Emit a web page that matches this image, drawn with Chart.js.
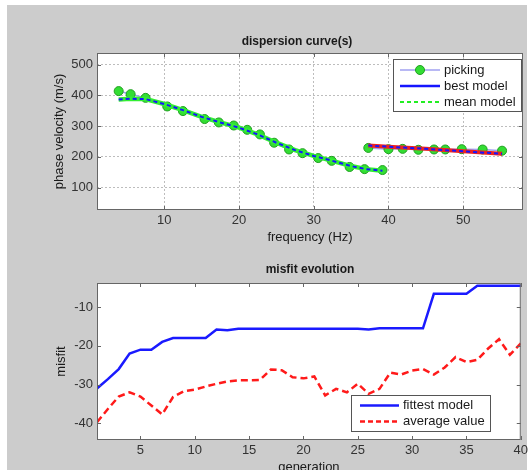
<!DOCTYPE html>
<html>
<head>
<meta charset="utf-8">
<script src="https://cdn.jsdelivr.net/npm/chart.js@4.4.0/dist/chart.umd.min.js"></script>
<style>
  html, body { margin: 0; padding: 0; background: #fff; overflow: hidden; }
  #fig { position: absolute; left: 7px; top: 5px; width: 520px; height: 465px; background: #cccccc; }
  .holder { position: absolute; left: 0; width: 531px; }
  #h1 { top: 0; height: 245px; }
  #h2 { top: 245px; height: 240px; }
</style>
</head>
<body>
<div id="fig"></div>
<div class="holder" id="h1"><canvas id="chart-dispersion" width="531" height="245"></canvas></div>
<div class="holder" id="h2"><canvas id="chart-misfit" width="531" height="240"></canvas></div>
<script>
// dispersion curve: picked points (two modes)
const pickFreqLow = [3.9, 5.5, 7.5, 10.4, 12.5, 15.4, 17.3, 19.3, 21.1, 22.8, 24.7, 26.7, 28.5, 30.6, 32.4, 34.8, 36.8, 39.2];
const pickVelLow = [414, 404, 392, 364, 349, 323, 312, 302, 288, 273, 246, 224, 212, 196, 187, 167, 160, 157];
const pickFreqHigh = [37.3, 40.0, 41.9, 44.0, 46.1, 47.6, 49.8, 52.6, 55.2];
const pickVelHigh = [229, 225, 226, 223, 224, 224, 225, 224, 220];

// model curves
const modelFreqLow = [3.9, 5.5, 7.5, 10, 12.5, 15, 17.5, 20, 22.5, 25, 27.5, 30, 32.5, 35, 37, 39.2];
const modelVelLow = [387, 389, 388, 372, 352, 330, 312, 295, 273, 246, 222, 203, 187, 170, 160, 155];
const modelFreqHigh = [37.3, 40, 45, 50, 55.2];
const modelVelHigh = [237, 233, 226, 218, 210];

const freqTicks = [10, 20, 30, 40, 50];
const velTicks = [100, 200, 300, 400, 500];

// misfit evolution
const generations = [1, 2, 3, 4, 5, 6, 7, 8, 9, 10, 11, 12, 13, 14, 15, 16, 17, 18, 19, 20,
  21, 22, 23, 24, 25, 26, 27, 28, 29, 30, 31, 32, 33, 34, 35, 36, 37, 38, 39, 40];
const fittestMisfit = [-31, -28.6, -26, -22, -21, -21, -19, -18, -18, -18, -18, -15.8, -16, -15.6, -15.6, -15.6, -15.6, -15.6, -15.6, -15.6,
  -15.6, -15.6, -15.6, -15.6, -15.6, -15.8, -15.5, -15.5, -15.5, -15.5, -15.5, -6.6, -6.6, -6.6, -6.6, -4.5, -4.5, -4.5, -4.5, -4.5];
const averageMisfit = [-39.7, -36.3, -33.1, -32.0, -33.1, -35.4, -37.7, -33.2, -31.7, -31.3, -30.5, -29.8, -29.2, -28.9, -28.9, -28.8, -26.1, -26.3, -28.1, -28.4,
  -27.9, -32.8, -31.1, -32.0, -29.8, -32.4, -31.1, -26.9, -27.4, -26.4, -26.0, -27.4, -25.6, -22.9, -24.2, -23.6, -20.7, -18.3, -22.3, -19.4];

const genTicks = [5, 10, 15, 20, 25, 30, 35, 40];
const misfitTicks = [-40, -30, -20, -10];

const FONT = "'Liberation Sans', Arial, sans-serif";

const toPoints = (xs, ys) => xs.map((x, i) => ({ x: x, y: ys[i] }));

// MATLAB-like axes: white area, inward ticks, box, title and legend
const axesFrame = {
  id: 'axesFrame',
  beforeDraw(chart) {
    const { ctx, chartArea: a } = chart;
    ctx.save();
    ctx.fillStyle = '#ffffff';
    ctx.fillRect(a.left, a.top, a.right - a.left, a.bottom - a.top);
    ctx.restore();
  },
  afterDatasetsDraw(chart) {
    const { ctx, chartArea: a, scales } = chart;
    ctx.save();
    ctx.strokeStyle = '#666';
    ctx.lineWidth = 1;
    ctx.beginPath();
    scales.x.ticks.forEach(t => {
      const px = Math.round(scales.x.getPixelForValue(t.value)) + 0.5;
      ctx.moveTo(px, a.bottom); ctx.lineTo(px, a.bottom - 4);
      ctx.moveTo(px, a.top); ctx.lineTo(px, a.top + 4);
    });
    scales.y.ticks.forEach(t => {
      const py = Math.round(scales.y.getPixelForValue(t.value)) + 0.5;
      ctx.moveTo(a.left, py); ctx.lineTo(a.left + 4, py);
      ctx.moveTo(a.right, py); ctx.lineTo(a.right - 4, py);
    });
    ctx.stroke();
    ctx.strokeRect(a.left + 0.5, a.top + 0.5, a.right - a.left - 1, a.bottom - a.top - 1);
    ctx.restore();
  },
  afterDraw(chart, args, opts) {
    const ctx = chart.ctx;
    ctx.save();
    // title
    ctx.fillStyle = '#1a1a1a';
    ctx.font = 'bold ' + opts.titleSize + 'px ' + FONT;
    ctx.textAlign = 'center';
    ctx.textBaseline = 'middle';
    ctx.fillText(opts.title, opts.titleX, opts.titleY);

    // legend
    const lg = opts.legend;
    ctx.fillStyle = '#ffffff';
    ctx.fillRect(lg.x, lg.y, lg.w, lg.h);
    ctx.strokeStyle = '#555';
    ctx.lineWidth = 1;
    ctx.strokeRect(lg.x + 0.5, lg.y + 0.5, lg.w, lg.h);
    lg.items.forEach((it, i) => {
      const y = lg.y + lg.first + i * lg.step;
      ctx.beginPath();
      ctx.setLineDash(it.dash || []);
      ctx.strokeStyle = it.color;
      ctx.lineWidth = it.width;
      ctx.moveTo(lg.lineX0, y);
      ctx.lineTo(lg.lineX1, y);
      ctx.stroke();
      ctx.setLineDash([]);
      if (it.marker) {
        ctx.beginPath();
        ctx.arc((lg.lineX0 + lg.lineX1) / 2, y, 4.5, 0, Math.PI * 2);
        ctx.fillStyle = it.marker;
        ctx.fill();
        ctx.strokeStyle = '#20a020';
        ctx.lineWidth = 1;
        ctx.stroke();
      }
      ctx.fillStyle = '#1a1a1a';
      ctx.font = '13px ' + FONT;
      ctx.textAlign = 'left';
      ctx.textBaseline = 'middle';
      ctx.fillText(it.label, lg.textX, y);
    });
    ctx.restore();
  }
};

function axisOptions(min, max, tickValues, titleText, titlePad, gridOn) {
  return {
    type: 'linear',
    min: min,
    max: max,
    afterBuildTicks: s => { s.ticks = tickValues.map(v => ({ value: v })); },
    grid: { display: gridOn, color: '#bdbdbd', lineWidth: 1, drawTicks: false, borderDash: [2, 2] },
    border: { display: false, dash: [2, 2] },
    ticks: { padding: 3, color: '#333', maxRotation: 0, font: { family: FONT, size: 13 } },
    title: { display: true, text: titleText, color: '#1a1a1a', font: { family: FONT, size: 13 }, padding: titlePad }
  };
}

// top chart
const dispX = axisOptions(1, 58, freqTicks, 'frequency (Hz)', { top: 0, bottom: 0 }, true);
dispX.afterFit = s => { s.height = 35; };
const dispY = axisOptions(27, 538, velTicks, 'phase velocity (m/s)', { top: 52, bottom: 0 }, true);
dispY.afterFit = s => { s.width = 97; };
dispY.ticks.padding = 4;

const pickingPoints = toPoints(pickFreqLow, pickVelLow)
  .concat([{ x: 39.2, y: null }])
  .concat(toPoints(pickFreqHigh, pickVelHigh));
const bestPoints = toPoints(modelFreqLow, modelVelLow)
  .concat([{ x: 39.2, y: null }])
  .concat(toPoints(modelFreqHigh, modelVelHigh));

new Chart(document.getElementById('chart-dispersion'), {
  type: 'line',
  data: {
    datasets: [
      {
        label: 'picking',
        data: pickingPoints,
        borderColor: '#a0a0f0',
        borderWidth: 1.5,
        pointRadius: 4.5,
        pointBackgroundColor: '#33dd33',
        pointBorderColor: '#20a020',
        pointBorderWidth: 1,
        order: 5
      },
      {
        label: 'mean model',
        data: toPoints(modelFreqLow, modelVelLow),
        borderColor: '#33ee33',
        borderWidth: 4.5,
        pointRadius: 0,
        order: 4
      },
      {
        label: 'mean model (mode 2)',
        data: toPoints(modelFreqHigh, modelVelHigh),
        borderColor: '#ee2222',
        borderWidth: 4,
        pointRadius: 0,
        order: 3
      },
      {
        label: 'best model',
        data: bestPoints,
        borderColor: '#1515ff',
        borderWidth: 2,
        borderDash: [4, 3],
        pointRadius: 0,
        order: 1
      }
    ]
  },
  options: {
    responsive: false,
    animation: false,
    events: [],
    spanGaps: false,
    layout: { padding: { top: 53, right: 8, left: 0, bottom: 0 } },
    scales: { x: dispX, y: dispY },
    plugins: {
      legend: { display: false },
      tooltip: { enabled: false },
      axesFrame: {
        title: 'dispersion curve(s)',
        titleSize: 12,
        titleX: 297,
        titleY: 42,
        legend: {
          x: 393, y: 59, w: 128, h: 52, first: 11, step: 16,
          lineX0: 400, lineX1: 440, textX: 444,
          items: [
            { label: 'picking', color: '#a0a0f0', width: 1.5, marker: '#33dd33' },
            { label: 'best model', color: '#1515ff', width: 2.5 },
            { label: 'mean model', color: '#22ee22', width: 2, dash: [4, 3] }
          ]
        }
      }
    }
  },
  plugins: [axesFrame]
});

// bottom chart
const misX = axisOptions(1, 40, genTicks, 'generation', { top: 0, bottom: 10 }, false);
misX.afterFit = s => { s.height = 45; };
const misY = axisOptions(-44.3, -3.8, misfitTicks, 'misfit', { top: 54, bottom: 0 }, false);
misY.afterFit = s => { s.width = 97; };
misY.ticks.padding = 4;

new Chart(document.getElementById('chart-misfit'), {
  type: 'line',
  data: {
    datasets: [
      {
        label: 'fittest model',
        data: toPoints(generations, fittestMisfit),
        borderColor: '#1a1aff',
        borderWidth: 2.5,
        pointRadius: 0
      },
      {
        label: 'average value',
        data: toPoints(generations, averageMisfit),
        borderColor: '#ff1a1a',
        borderWidth: 2.5,
        borderDash: [7, 4],
        pointRadius: 0
      }
    ]
  },
  options: {
    responsive: false,
    animation: false,
    events: [],
    layout: { padding: { top: 38, right: 8, left: 0, bottom: 0 } },
    scales: { x: misX, y: misY },
    plugins: {
      legend: { display: false },
      tooltip: { enabled: false },
      axesFrame: {
        title: 'misfit evolution',
        titleSize: 12,
        titleX: 310,
        titleY: 25,
        legend: {
          x: 351, y: 150, w: 139, h: 36, first: 10.5, step: 16,
          lineX0: 360, lineX1: 399, textX: 403,
          items: [
            { label: 'fittest model', color: '#1a1aff', width: 2.5 },
            { label: 'average value', color: '#ff1a1a', width: 2.5, dash: [5, 3] }
          ]
        }
      }
    }
  },
  plugins: [axesFrame]
});
</script>
</body>
</html>
